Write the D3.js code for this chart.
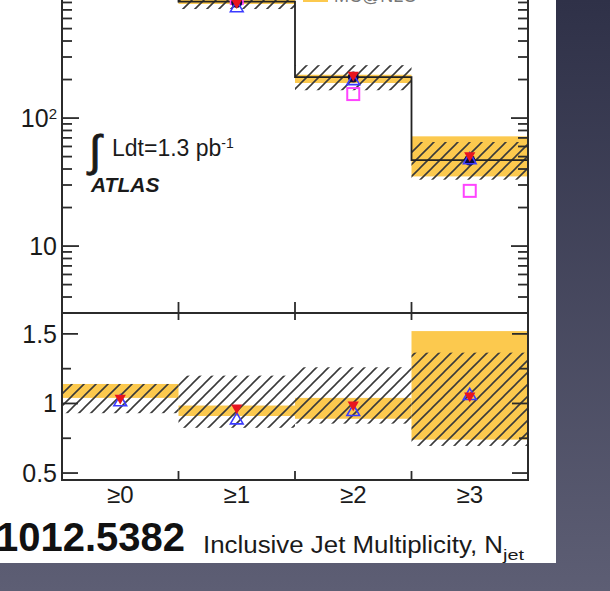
<!DOCTYPE html>
<html><head><meta charset="utf-8">
<script src="https://cdn.jsdelivr.net/npm/d3@7/dist/d3.min.js"></script>
<style>
html,body{margin:0;padding:0;background:#44465e;}
svg{display:block;}
text{font-family:"Liberation Sans",Arial,Helvetica,sans-serif;fill:#1a1a1a;}
</style></head>
<body>
<svg id="c" width="610" height="591"></svg>
<script>
// ---------- data ----------
const categories = ["≥0", "≥1", "≥2", "≥3"];
// upper panel (cross section, log scale)
const predLine    = [4300, 813, 209, 47];
const yellowTopLo = [4000, 779, 188, 35];
const yellowTopHi = [4700, 870, 218, 72];
const hatchTopLo  = [3800, 711, 165, 33];
const hatchTopHi  = [4900, 920, 259, 65];
const dataTop     = [4350, 800, 209, 47];
const redTop      = [4300, 800, 217, 51];
const blueTop     = [4250, 724, 195, 47];
const pinkTop     = [4200, 866, 154, 27];
// lower panel (ratio)
const yellowRatioLo = [1.04, 0.91, 0.89, 0.74];
const yellowRatioHi = [1.14, 0.985, 1.04, 1.52];
const hatchRatioLo  = [0.93, 0.825, 0.855, 0.695];
const hatchRatioHi  = [1.14, 1.20, 1.26, 1.365];
const redRatio      = [1.04, 0.97, 0.99, 1.055];
const blueRatio     = [1.01, 0.88, 0.94, 1.055];
// tick labels
const ratioTicks = [0.5, 1, 1.5];
const ratioTickLabels = ["0.5", "1", "1.5"];
const ratioMinor = [0.75, 1.25];
const logMajor = [10, 100, 1000];
const logMajorExp = ["", "2", "3"];
const legendLabel = ["MC@NLO"];
const xTitle = "Inclusive Jet Multiplicity, N";
const xTitleSub = "jet";
const refLabel = "1012.5382";

// ---------- layout ----------
const svg = d3.select("#c");
const W = 610, H = 591;
const L = 62, R = 528, topB = 313, lowT = 313, lowB = 480;
const decade = 128;

const defs = svg.append("defs");
const grad = defs.append("linearGradient").attr("id","bg").attr("x1",0).attr("y1",0).attr("x2",0).attr("y2",1);
grad.append("stop").attr("offset","0%").attr("stop-color","#2f3148");
grad.append("stop").attr("offset","100%").attr("stop-color","#5d5e74");
svg.append("rect").attr("width",W).attr("height",H).attr("fill","url(#bg)");
svg.append("rect").attr("x",0).attr("y",0).attr("width",556).attr("height",563).attr("fill","#ffffff");

const pat = defs.append("pattern").attr("id","hatch").attr("patternUnits","userSpaceOnUse")
  .attr("width",12).attr("height",12);
pat.append("path").attr("d","M0,12 L12,0 M-3,3 L3,-3 M9,15 L15,9")
  .attr("stroke","#3a3a3a").attr("stroke-width",1.6).attr("fill","none");

const x = d3.scaleBand().domain(categories).range([L, R]).paddingInner(0).paddingOuter(0);
const bw = x.bandwidth();
const yTopMin = 3, yTopMax = 10000;
const yT = d3.scaleLog().domain([yTopMin, yTopMax])
  .range([topB, topB - decade * Math.log10(yTopMax / yTopMin)]);
const yR = d3.scaleLinear().domain([0.45, 1.65]).range([lowB, lowT]);

defs.append("clipPath").attr("id","clipTop").append("rect")
  .attr("x",L).attr("y",yT(yTopMax)).attr("width",R-L).attr("height",topB-yT(yTopMax));
defs.append("clipPath").attr("id","clipLow").append("rect")
  .attr("x",L).attr("y",lowT).attr("width",R-L).attr("height",lowB-lowT);

const yellow = "#fcc94e";

// ---------- upper panel ----------
const gT = svg.append("g").attr("clip-path","url(#clipTop)");
gT.selectAll("rect.yel").data(categories).join("rect").attr("class","yel")
  .attr("x", d => x(d)).attr("width", bw)
  .attr("y", (d,i) => yT(yellowTopHi[i]))
  .attr("height", (d,i) => yT(yellowTopLo[i]) - yT(yellowTopHi[i]))
  .attr("fill", yellow);
gT.selectAll("rect.hat").data(categories).join("rect").attr("class","hat")
  .attr("x", d => x(d)).attr("width", bw)
  .attr("y", (d,i) => yT(hatchTopHi[i]))
  .attr("height", (d,i) => yT(hatchTopLo[i]) - yT(hatchTopHi[i]))
  .attr("fill", "url(#hatch)");
const stepPts = [];
categories.forEach((c,i) => { stepPts.push([x(c), yT(predLine[i])]); stepPts.push([x(c)+bw, yT(predLine[i])]); });
gT.append("path").attr("d", d3.line()(stepPts)).attr("fill","none").attr("stroke","#222").attr("stroke-width",1.8);

function markers(g, yS, pink, data, blue, red) {
  if (pink) g.selectAll("rect.pk").data(categories).join("rect").attr("class","pk")
    .attr("x", d => x(d)+bw/2-6).attr("y",(d,i)=>yS(pink[i])-6).attr("width",12).attr("height",12)
    .attr("fill","none").attr("stroke","#ff44ff").attr("stroke-width",2);
  if (data) g.selectAll("circle.dt").data(categories).join("circle").attr("class","dt")
    .attr("cx", d => x(d)+bw/2).attr("cy",(d,i)=>yS(data[i])).attr("r",5.5).attr("fill","#0a0a3c");
  g.selectAll("path.bl").data(categories).join("path").attr("class","bl")
    .attr("d", d3.symbol().type(d3.symbolTriangle).size(70))
    .attr("transform",(d,i)=>`translate(${x(d)+bw/2},${yS(blue[i])})`)
    .attr("fill","none").attr("stroke","#3b3bff").attr("stroke-width",1.6);
  g.selectAll("path.rd").data(categories).join("path").attr("class","rd")
    .attr("d", d3.symbol().type(d3.symbolTriangle).size(55))
    .attr("transform",(d,i)=>`translate(${x(d)+bw/2},${yS(red[i])}) rotate(180)`)
    .attr("fill","#e8141e");
}
markers(gT, yT, pinkTop, dataTop, blueTop, redTop);

// ---------- lower panel ----------
const gL = svg.append("g").attr("clip-path","url(#clipLow)");
gL.selectAll("rect.yel").data(categories).join("rect").attr("class","yel")
  .attr("x", d => x(d)).attr("width", bw)
  .attr("y", (d,i) => yR(yellowRatioHi[i]))
  .attr("height", (d,i) => yR(yellowRatioLo[i]) - yR(yellowRatioHi[i]))
  .attr("fill", yellow);
gL.selectAll("rect.hat").data(categories).join("rect").attr("class","hat")
  .attr("x", d => x(d)).attr("width", bw)
  .attr("y", (d,i) => yR(hatchRatioHi[i]))
  .attr("height", (d,i) => yR(hatchRatioLo[i]) - yR(hatchRatioHi[i]))
  .attr("fill", "url(#hatch)");
markers(gL, yR, null, null, blueRatio, redRatio);

// ---------- frames & ticks ----------
const axisCol = "#2b2b2b";
svg.append("rect").attr("x",L).attr("y",yT(yTopMax)).attr("width",R-L).attr("height",topB-yT(yTopMax))
  .attr("fill","none").attr("stroke",axisCol).attr("stroke-width",2);
svg.append("rect").attr("x",L).attr("y",lowT).attr("width",R-L).attr("height",lowB-lowT)
  .attr("fill","none").attr("stroke",axisCol).attr("stroke-width",2);

const logTicks = [];
for (let p = 1; p <= 10000; p *= 10) for (let m = 1; m <= 9; m++) {
  const v = p*m; if (v >= yTopMin && v <= yTopMax) logTicks.push(v);
}
const tk = svg.append("g").attr("stroke",axisCol).attr("stroke-width",1.8);
logTicks.forEach(v => {
  const major = Math.abs(Math.log10(v) - Math.round(Math.log10(v))) < 1e-9;
  const len = major ? 17 : 10;
  tk.append("line").attr("x1",L).attr("x2",L+len).attr("y1",yT(v)).attr("y2",yT(v));
  tk.append("line").attr("x1",R).attr("x2",R-len).attr("y1",yT(v)).attr("y2",yT(v));
});
ratioTicks.forEach(v => {
  tk.append("line").attr("x1",L).attr("x2",L+16).attr("y1",yR(v)).attr("y2",yR(v));
  tk.append("line").attr("x1",R).attr("x2",R-16).attr("y1",yR(v)).attr("y2",yR(v));
});
ratioMinor.forEach(v => {
  tk.append("line").attr("x1",L).attr("x2",L+9).attr("y1",yR(v)).attr("y2",yR(v));
  tk.append("line").attr("x1",R).attr("x2",R-9).attr("y1",yR(v)).attr("y2",yR(v));
});
categories.forEach((c,i) => {
  if (i === 0) return;
  const xe = x(c);
  tk.append("line").attr("x1",xe).attr("x2",xe).attr("y1",topB-11).attr("y2",lowT+7);
  tk.append("line").attr("x1",xe).attr("x2",xe).attr("y1",lowB).attr("y2",lowB-9);
});

// y labels upper
logMajor.forEach((v,i) => {
  const t = svg.append("text").attr("x", 57).attr("y", yT(v)).attr("dy","0.36em")
    .attr("text-anchor","end").style("font-size","25px");
  if (logMajorExp[i]) {
    t.append("tspan").text("10");
    t.append("tspan").text(logMajorExp[i]).attr("dy","-0.55em").style("font-size","15px");
  } else t.text("10");
});
ratioTicks.forEach((v,i) => {
  svg.append("text").attr("x",57).attr("y",yR(v)).attr("dy","0.36em").attr("text-anchor","end")
    .style("font-size","25px").text(ratioTickLabels[i]);
});
svg.selectAll("text.xl").data(categories).join("text").attr("class","xl")
  .attr("x", d => x(d)+bw/2).attr("y", 503).attr("text-anchor","middle")
  .style("font-size","24px").text(d => d);

// annotations
svg.append("text").attr("x",89).attr("y",166).style("font-size","44px")
  .style("stroke","#1a1a1a").style("stroke-width","0.9").text("∫");
const lt = svg.append("text").attr("x",112).attr("y",156).style("font-size","23px");
lt.append("tspan").text("Ldt=1.3 pb");
lt.append("tspan").text("-1").attr("dy","-0.6em").style("font-size","14px");
svg.append("text").attr("x",91).attr("y",192).style("font-size","21px")
  .style("font-weight","bold").style("font-style","italic").text("ATLAS");

// legend fragment at top
svg.append("rect").attr("x",303).attr("y",-20).attr("width",25).attr("height",22).attr("fill",yellow);
svg.append("text").attr("x",334).attr("y",2).style("font-size","18px").style("fill","#777").text(legendLabel[0]);

// bottom texts
svg.append("text").attr("x",185).attr("y",551).attr("text-anchor","end")
  .style("font-size","40px").style("font-weight","bold").style("fill","#111").text(refLabel);
svg.append("text").attr("x",203).attr("y",553).style("font-size","23px")
  .attr("textLength",300).attr("lengthAdjust","spacingAndGlyphs").text(xTitle);
svg.append("text").attr("x",503).attr("y",560).style("font-size","15px")
  .attr("textLength",21).attr("lengthAdjust","spacingAndGlyphs").text(xTitleSub);
</script>
</body></html>
